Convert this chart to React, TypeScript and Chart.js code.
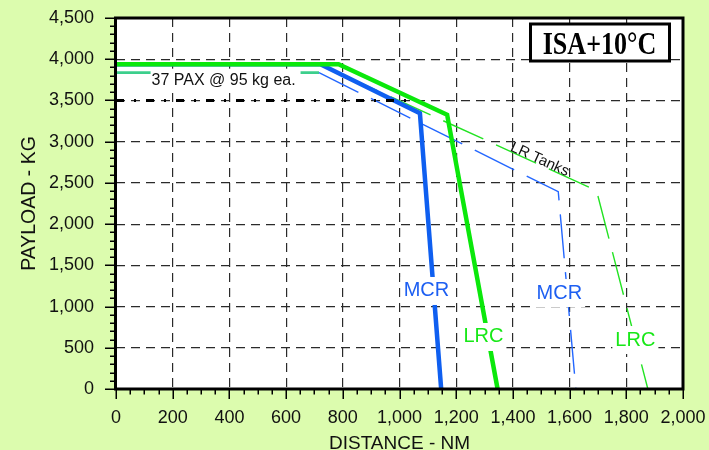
import React, { useEffect, useRef } from 'react';
import { Chart, registerables } from 'chart.js';

Chart.register(...registerables);

// ---- data (NM, kg) ----
const mcrDistance = [0, 721, 1072, 1147];
const mcrPayload = [3940, 3940, 3344, 0];
const lrcDistance = [0, 785, 1168, 1346];
const lrcPayload = [3940, 3940, 3327, 0];
const mcrTanksDistance = [0, 716, 1560, 1622];
const mcrTanksPayload = [3837, 3837, 2393, 0];
const lrcTanksDistance = [0, 782, 1695, 1876];
const lrcTanksPayload = [3837, 3837, 2407, 0];
const paxDistance = [0, 1045];
const paxPayload = [3500, 3500];

const xTickValues = [0, 200, 400, 600, 800, 1000, 1200, 1400, 1600, 1800, 2000];
const yTickValues = [0, 500, 1000, 1500, 2000, 2500, 3000, 3500, 4000, 4500];

const curveLabelText = ['MCR', 'LRC', 'MCR', 'LRC'];
const curveLabelDistance = [1095, 1296, 1564, 1832];
const curveLabelPayload = [1189, 631, 1164, 594];

const BG = '#dcfcae';
const GREEN = '#0be80b';
const BLUE = '#0f5ff0';
const THIN_BLUE = '#2266ff';
const THIN_GREEN = '#22e322';
const TEAL = '#3ccf8c';
const LABEL_BLUE = '#1d5ff2';
const LABEL_GREEN = '#18e818';
const SANS = '"Liberation Sans", Arial, sans-serif';

const pts = (xs: number[], ys: number[]) => xs.map((x, i) => ({ x, y: ys[i] }));

const decor = {
  id: 'decor',
  beforeDraw(chart: any) {
    const { ctx, width, height, chartArea: a } = chart;
    ctx.save();
    ctx.fillStyle = BG;
    ctx.fillRect(0, 0, width, height);
    ctx.fillStyle = '#ffffff';
    ctx.fillRect(a.left, a.top, a.right - a.left, a.bottom - a.top);
    ctx.restore();
  },
  afterDatasetsDraw(chart: any) {
    const { ctx, chartArea: a } = chart;
    const xs = chart.scales.x;
    const ys = chart.scales.y;
    ctx.save();

    // "37 PAX" label with white background
    const lineY = ys.getPixelForValue(mcrTanksPayload[0]);
    const lx0 = xs.getPixelForValue(122);
    const lx1 = xs.getPixelForValue(651);
    ctx.fillStyle = '#ffffff';
    ctx.fillRect(lx0, lineY - 4, lx1 - lx0, 20);
    ctx.fillStyle = '#111111';
    ctx.font = `16px ${SANS}`;
    ctx.textAlign = 'left';
    ctx.textBaseline = 'alphabetic';
    ctx.fillText('37 PAX @ 95 kg ea.', lx0 + 1, lineY + 12.8);

    // "LR Tanks" along thin green line
    {
      const d = 1488;
      const i = 1;
      const x1 = lrcTanksDistance[i], x2 = lrcTanksDistance[i + 1];
      const y1 = lrcTanksPayload[i], y2 = lrcTanksPayload[i + 1];
      const p = y1 + ((d - x1) / (x2 - x1)) * (y2 - y1);
      const px1 = xs.getPixelForValue(x1), py1 = ys.getPixelForValue(y1);
      const px2 = xs.getPixelForValue(x2), py2 = ys.getPixelForValue(y2);
      const ang = Math.atan2(py2 - py1, px2 - px1);
      ctx.save();
      ctx.translate(xs.getPixelForValue(d), ys.getPixelForValue(p));
      ctx.rotate(ang);
      ctx.font = `15px ${SANS}`;
      ctx.fillStyle = '#111111';
      ctx.textAlign = 'center';
      ctx.textBaseline = 'alphabetic';
      ctx.fillText('LR Tanks', 0, -0.5);
      ctx.restore();
    }

    // curve labels with white background
    ctx.font = `20px ${SANS}`;
    ctx.textAlign = 'center';
    ctx.textBaseline = 'middle';
    curveLabelText.forEach((t, i) => {
      const cx = xs.getPixelForValue(curveLabelDistance[i]);
      const cy = ys.getPixelForValue(curveLabelPayload[i]);
      const w = ctx.measureText(t).width;
      ctx.fillStyle = '#ffffff';
      ctx.fillRect(cx - w / 2 - 3, cy - 14, w + 6, 28);
      ctx.fillStyle = t === 'MCR' ? LABEL_BLUE : LABEL_GREEN;
      ctx.fillText(t, cx, cy);
    });

    // frame
    ctx.strokeStyle = '#000000';
    ctx.lineWidth = 3;
    ctx.strokeRect(a.left - 0.5, a.top, a.right - a.left + 0.5, a.bottom - a.top);

    // tick marks (major + minor)
    ctx.lineWidth = 1.5;
    ctx.beginPath();
    for (let v = 0; v <= 4500; v += 100) {
      const py = Math.round(ys.getPixelForValue(v)) + 0.25;
      const len = v % 500 === 0 ? 10 : 5;
      ctx.moveTo(a.left - len - 1, py);
      ctx.lineTo(a.left, py);
    }
    for (let v = 0; v <= 2000; v += 50) {
      const px = Math.round(xs.getPixelForValue(v)) + 0.25;
      const len = v % 200 === 0 ? 9 : 4.5;
      ctx.moveTo(px, a.bottom);
      ctx.lineTo(px, a.bottom + len + 1);
    }
    ctx.stroke();

    // ISA box
    const bx0 = a.right - 152.5, bx1 = a.right - 13.5;
    const by0 = a.top + 6, by1 = a.top + 43;
    ctx.fillStyle = '#ffffff';
    ctx.fillRect(bx0, by0, bx1 - bx0, by1 - by0);
    ctx.lineWidth = 3;
    ctx.strokeRect(bx0, by0, bx1 - bx0, by1 - by0);
    ctx.save();
    ctx.translate((bx0 + bx1) / 2 - 0.5, by0 + 19.7 + 10.5);
    ctx.scale(0.84, 1);
    ctx.font = 'bold 31px "Liberation Serif", "Times New Roman", serif';
    ctx.fillStyle = '#000000';
    ctx.textAlign = 'center';
    ctx.textBaseline = 'alphabetic';
    ctx.fillText('ISA+10°C', 0, 0);
    ctx.restore();

    ctx.restore();
  },
};

export default function App() {
  const ref = useRef<HTMLCanvasElement>(null);
  useEffect(() => {
    const thinDash = [44, 14];
    const chart = new Chart(ref.current as HTMLCanvasElement, {
      type: 'line',
      data: {
        datasets: [
          {
            label: 'PAX',
            data: pts(paxDistance, paxPayload),
            borderColor: '#000000',
            borderWidth: 3,
            borderDash: [8, 10, 2, 10],
            pointRadius: 0,
            order: 1,
          },
          {
            label: 'LRC',
            data: pts(lrcDistance, lrcPayload),
            borderColor: GREEN,
            borderWidth: 4.5,
            pointRadius: 0,
            order: 2,
          },
          {
            label: 'MCR',
            data: pts(mcrDistance, mcrPayload),
            borderColor: BLUE,
            borderWidth: 4.5,
            pointRadius: 0,
            order: 3,
          },
          {
            label: 'LRC LR Tanks',
            data: pts(lrcTanksDistance, lrcTanksPayload),
            borderColor: THIN_GREEN,
            borderWidth: 1.4,
            borderDash: thinDash,
            pointRadius: 0,
            order: 4,
            segment: {
              borderColor: (c: any) => (c.p0DataIndex === 0 ? 'rgba(0,0,0,0)' : undefined),
            },
          },
          {
            label: 'MCR LR Tanks',
            data: pts(mcrTanksDistance, mcrTanksPayload),
            borderColor: THIN_BLUE,
            borderWidth: 1.4,
            borderDash: thinDash,
            pointRadius: 0,
            order: 5,
            segment: {
              borderColor: (c: any) => (c.p0DataIndex === 0 ? TEAL : undefined),
              borderDash: (c: any) => (c.p0DataIndex === 0 ? [] : undefined),
              borderWidth: (c: any) => (c.p0DataIndex === 0 ? 2.6 : undefined),
            },
          },
        ],
      },
      options: {
        animation: false,
        responsive: false,
        maintainAspectRatio: false,
        devicePixelRatio: 1,
        layout: { padding: { left: 0, right: 26, top: 18, bottom: 0 } },
        plugins: { legend: { display: false }, tooltip: { enabled: false } },
        elements: { line: { tension: 0, borderJoinStyle: 'miter' } },
        scales: {
          x: {
            type: 'linear',
            min: 0,
            max: 2000,
            afterFit: (s: any) => {
              s.height = 61;
              s.paddingLeft = 0;
              s.paddingRight = 0;
            },
            afterBuildTicks: (s: any) => { s.ticks = xTickValues.map((v) => ({ value: v })); },
            ticks: {
              padding: 18,
              color: '#111111',
              font: { family: SANS, size: 18 },
              maxRotation: 0,
              autoSkip: false,
              callback: (v: any) => Number(v).toLocaleString('en-US'),
            },
            grid: { color: '#2a2a2a', lineWidth: 1.2, drawTicks: false },
            border: { display: false, dash: [9, 6] },
            title: {
              display: true,
              text: 'DISTANCE - NM',
              color: '#111111',
              font: { family: SANS, size: 19 },
              padding: { top: 0, bottom: -5 },
            },
          },
          y: {
            type: 'linear',
            min: 0,
            max: 4500,
            afterFit: (s: any) => {
              s.width = 116;
              s.paddingTop = 0;
              s.paddingBottom = 0;
            },
            afterBuildTicks: (s: any) => { s.ticks = yTickValues.map((v) => ({ value: v })); },
            ticks: {
              padding: 22,
              color: '#111111',
              font: { family: SANS, size: 18 },
              autoSkip: false,
              callback: (v: any) => Number(v).toLocaleString('en-US'),
            },
            grid: { color: '#2a2a2a', lineWidth: 1.2, drawTicks: false },
            border: { display: false, dash: [9, 6] },
            title: {
              display: true,
              text: 'PAYLOAD - KG',
              color: '#111111',
              font: { family: SANS, size: 19.5 },
              padding: { top: 18.3, bottom: 0 },
            },
          },
        },
      },
      plugins: [decor],
    } as any);
    return () => chart.destroy();
  }, []);

  return (
    <div style={{ position: 'absolute', left: 0, top: 0, width: 709, height: 450, background: BG }}>
      <canvas ref={ref} width={709} height={450} style={{ display: 'block', width: 709, height: 450 }} />
    </div>
  );
}
